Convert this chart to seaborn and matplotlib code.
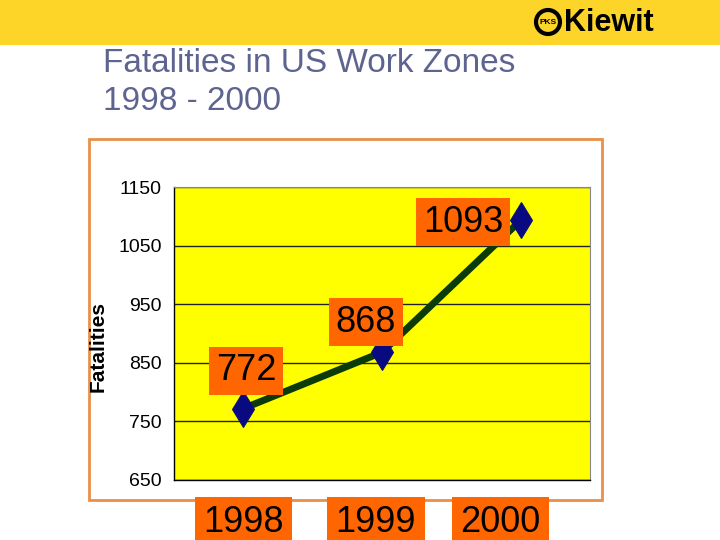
import matplotlib
matplotlib.use("Agg")
import matplotlib.pyplot as plt
import matplotlib.patches as mpatches
import matplotlib.transforms as mtransforms
import seaborn as sns
import pandas as pd

years = ["1998", "1999", "2000"]
fatalities = [772, 868, 1093]
yticks = [650, 750, 850, 950, 1050, 1150]

ORANGE = "#FF6600"
SANS = ["Liberation Sans", "DejaVu Sans"]

sns.set_style("white")
plt.rcParams["font.family"] = SANS
plt.rcParams["text.color"] = "black"
plt.rcParams["axes.labelcolor"] = "black"
plt.rcParams["xtick.color"] = "black"
plt.rcParams["ytick.color"] = "black"

fig = plt.figure(figsize=(7.2, 5.4), dpi=100)

# top banner
fig.patches.append(mpatches.Rectangle((0, 1 - 45 / 540), 1, 45 / 540, transform=fig.transFigure,
                                      facecolor="#FDD428", edgecolor="none", zorder=-2))
# logo
fig.patches.append(mpatches.Ellipse((548 / 720, 1 - 22 / 540), 24 / 720, 24 / 540,
                                    transform=fig.transFigure, facecolor="#FDD428",
                                    edgecolor="black", linewidth=3, zorder=-1))
fig.text(548 / 720, 1 - 22 / 540, "PKS", fontsize=6, fontweight="bold", ha="center", va="center")
fig.text(564 / 720, 1 - 23 / 540, "Kiewit", fontsize=22, fontweight="bold", ha="left", va="center")

# title
fig.text(103 / 720, 1 - 72 / 540, "Fatalities in US Work Zones", fontsize=24, color="#5E6490",
         ha="left", va="baseline", fontweight="medium")
fig.text(103 / 720, 1 - 110 / 540, "1998 - 2000", fontsize=24, color="#5E6490",
         ha="left", va="baseline", fontweight="medium")

# chart frame
fig.patches.append(mpatches.Rectangle((89 / 720, 1 - 500 / 540), 513 / 720, 361 / 540,
                                      transform=fig.transFigure, facecolor="white",
                                      edgecolor="#E8904A", linewidth=2, zorder=-1))

ax = fig.add_axes([174 / 720, 1 - 480 / 540, 416 / 720, 293 / 540])
ax.set_zorder(2)
ax.set_facecolor("#FFFF00")

df = pd.DataFrame({"Year": range(len(years)), "Fatalities": fatalities})
sns.lineplot(data=df, x="Year", y="Fatalities", ax=ax, color="#0B3A0B", linewidth=5,
             marker="d", markersize=18, markerfacecolor="#0A0A80", markeredgecolor="#0A0A80",
             zorder=3)

ax.set_xlim(-0.5, 2.5)
ax.set_ylim(650, 1150)
ax.set_yticks(yticks)
ax.set_yticklabels([str(t) for t in yticks], fontsize=14)
ax.tick_params(axis="y", length=5, width=1, color="black", pad=4)
ax.grid(axis="y", color="#222222", linewidth=1)
ax.set_axisbelow(True)

ax.set_xticks([0, 1, 2])
ax.set_xticklabels(years, fontsize=26)
ax.set_xticks([-0.5, 0.5, 1.5, 2.5], minor=True)
ax.tick_params(axis="x", which="major", length=0, pad=18)
ax.tick_params(axis="x", which="minor", length=6, width=1, color="black")
shifts = [0, -6, -20]
for lbl, dx in zip(ax.get_xticklabels(), shifts):
    lbl.set_bbox(dict(facecolor=ORANGE, edgecolor="none", pad=6))
    lbl.set_clip_on(False)
    lbl.set_transform(lbl.get_transform() + mtransforms.ScaledTranslation(dx / 100, 0, fig.dpi_scale_trans))

for sp in ["top", "right"]:
    ax.spines[sp].set_color("#888888")
    ax.spines[sp].set_linewidth(0.8)
for sp in ["left", "bottom"]:
    ax.spines[sp].set_color("black")
    ax.spines[sp].set_linewidth(1)

ax.set_xlabel("")
ax.set_ylabel("Fatalities", fontsize=15, fontweight="bold")
ax.yaxis.set_label_coords((108 - 174) / 416, (480 - 346) / 293)

# data labels
label_pos = [(246, 371), (366, 322), (463, 222)]
for i, v in enumerate(fatalities):
    px, py = label_pos[i]
    ax.annotate(str(v), xy=(i, v), xycoords="data",
                xytext=(px / 720, 1 - py / 540), textcoords="figure fraction",
                fontsize=26, ha="center", va="center", zorder=6, color="black",
                bbox=dict(facecolor=ORANGE, edgecolor="none", pad=5))

fig.savefig("out.png", dpi=100)
